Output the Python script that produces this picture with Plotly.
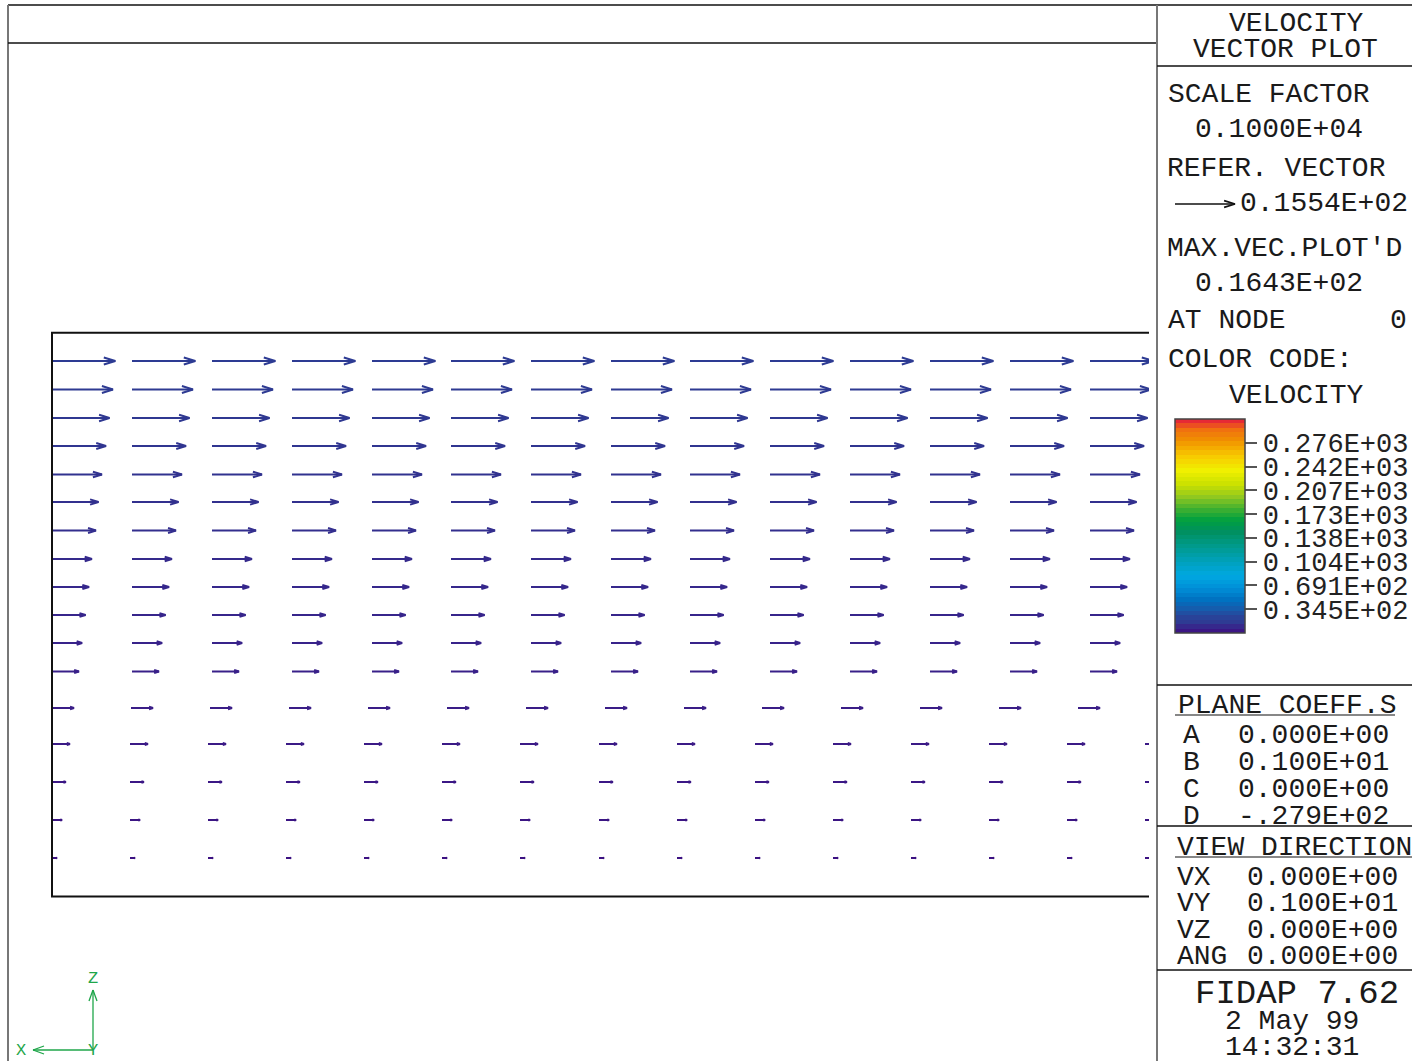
import math
import plotly.graph_objects as go
import plotly.figure_factory as ff
from plotly.colors import sample_colorscale

W, H = 1412, 1061
FONT = "Liberation Mono"

# ---------------- data ----------------
# node rows (z, model units) and horizontal velocity of each row
ROW_Z = [26.775, 25.35, 23.925, 22.525, 21.1, 19.725, 18.3, 16.875, 15.475,
         14.075, 12.675, 11.25, 9.425, 7.625, 5.725, 3.825, 1.925]
ROW_SPEED = [16.40, 15.80, 14.90, 14.00, 12.95, 12.05, 11.40, 10.35, 9.60,
             8.70, 7.80, 7.00, 5.70, 4.65, 3.60, 2.60, 1.30]
# node columns (x, model units) for the three mesh blocks
COLS_UPPER = [0.0, 4.0, 8.0, 12.0, 16.0, 19.95, 23.95, 27.95, 31.9, 35.9,
              39.9, 43.9, 47.9, 51.9]
COLS_MIDDLE = [0.0, 3.95, 7.9, 11.85, 15.8, 19.75, 23.7, 27.65, 31.6, 35.5,
               39.45, 43.4, 47.35, 51.3]
COLS_LOWER = [0.0, 3.9, 7.8, 11.7, 15.6, 19.5, 23.4, 27.35, 31.25, 35.15,
              39.05, 42.95, 46.85, 50.75, 54.65]
COLUMN_SETS = [COLS_UPPER, COLS_MIDDLE, COLS_LOWER]
ROW_BLOCK = [0] * 12 + [1] + [2] * 4

DOMAIN_W = 56.0
DOMAIN_H = 28.19

REF_VECTOR = 15.54
MAX_VECTOR = 16.43

# colour code (velocity)
CB_MAX = 310.86
CB_TICKS = [34.54, 69.08, 103.62, 138.16, 172.70, 207.24, 241.78, 276.32]
CB_LABELS = ["0.345E+02", "0.691E+02", "0.104E+03", "0.138E+03",
             "0.173E+03", "0.207E+03", "0.242E+03", "0.276E+03"]
VEL_COLORS = [
    [0.00, "#3c0e80"], [0.02, "#3a1e88"], [0.05, "#2e3a92"], [0.08, "#28449a"],
    [0.105, "#1a58a8"], [0.153, "#0070c0"], [0.21, "#0090d8"],
    [0.27, "#00a8e0"], [0.34, "#00a0b8"], [0.41, "#009a88"],
    [0.47, "#009060"], [0.527, "#00a040"], [0.58, "#40b030"],
    [0.635, "#90c820"], [0.69, "#c8e000"], [0.76, "#f0f000"],
    [0.83, "#f8c800"], [0.90, "#f09000"], [0.95, "#f07010"],
    [0.985, "#e83030"], [1.00, "#e01840"],
]
N_BANDS = 48

# ---------------- styling helpers ----------------
PX_PER_UNIT = 20.0          # model unit -> screen pixels
ARROW_PX_PER_VEL = 3.86     # velocity unit -> screen pixels


def px(xp):
    return xp / W


def py(yp):
    return 1 - yp / H


fig = go.Figure()

# banded colour scale for the colour code bar
banded = []
band_cols = sample_colorscale(VEL_COLORS, [(i + 0.5) / N_BANDS for i in range(N_BANDS)])
for i, c in enumerate(band_cols):
    banded.append([i / N_BANDS, c])
    banded.append([(i + 1) / N_BANDS, c])

# ---------------- velocity vectors ----------------
vscale = ARROW_PX_PER_VEL / PX_PER_UNIT
all_x, all_z, all_s = [], [], []
for z, s, b in zip(ROW_Z, ROW_SPEED, ROW_BLOCK):
    cols = COLUMN_SETS[b]
    xs = list(cols)
    zs = [z] * len(cols)
    us = [s] * len(cols)
    vs = [0.0] * len(cols)
    color = sample_colorscale(VEL_COLORS, [s / CB_MAX])[0]
    q = ff.create_quiver(xs, zs, us, vs, scale=vscale, arrow_scale=0.19,
                         angle=0.30, line=dict(color=color, width=2),
                         hoverinfo="skip", showlegend=False)
    fig.add_trace(q.data[0])
    all_x += xs
    all_z += zs
    all_s += us

# domain outline (right side runs out of the window)
fig.add_trace(go.Scatter(x=[DOMAIN_W, 0, 0, DOMAIN_W], y=[0, 0, DOMAIN_H, DOMAIN_H],
                         mode="lines", line=dict(color="#111", width=2),
                         hoverinfo="skip", showlegend=False))

# invisible markers carrying the colour code bar
fig.add_trace(go.Scatter(
    x=all_x, y=all_z, mode="markers", hoverinfo="skip", showlegend=False,
    marker=dict(size=1, opacity=0, color=all_s, colorscale=banded, cmin=0, cmax=CB_MAX,
                showscale=True,
                colorbar=dict(x=px(1175), xanchor="left", y=py(419), yanchor="top",
                              len=213.7, lenmode="pixels", thickness=70,
                              thicknessmode="pixels", xpad=0, ypad=0,
                              outlinewidth=1.5, outlinecolor="#444",
                              ticks="outside", ticklen=12, tickwidth=1.5,
                              tickcolor="#555", tickmode="array",
                              tickvals=CB_TICKS, ticktext=CB_LABELS,
                              tickfont=dict(family=FONT, size=27, color="#222")))))

# reference vector in side panel
rq = ff.create_quiver([0.9], [(H - 204) / PX_PER_UNIT], [REF_VECTOR], [0.0],
                      scale=vscale, arrow_scale=0.19, angle=0.30,
                      line=dict(color="#111", width=1.6), hoverinfo="skip",
                      showlegend=False)
rt = rq.data[0]
rt.update(xaxis="x2", yaxis="y2")
fig.add_trace(rt)

# ---------------- layout ----------------
x0_px, x1_px = 8, 1149
y0_px = 43
fig.update_layout(
    width=W, height=H, margin=dict(l=0, r=0, t=0, b=0),
    paper_bgcolor="white", plot_bgcolor="white",
    xaxis=dict(domain=[px(x0_px), px(x1_px)],
               range=[(x0_px - 52) / PX_PER_UNIT, (x1_px - 52) / PX_PER_UNIT],
               visible=False, fixedrange=True),
    yaxis=dict(domain=[0, py(y0_px)],
               range=[(896.5 - H) / PX_PER_UNIT, (896.5 - y0_px) / PX_PER_UNIT],
               visible=False, fixedrange=True),
    xaxis2=dict(domain=[px(1157), 1], range=[0, (W - 1157) / PX_PER_UNIT],
                anchor="y2", visible=False, fixedrange=True),
    yaxis2=dict(domain=[0, 1], range=[0, H / PX_PER_UNIT], anchor="x2",
                visible=False, fixedrange=True),
    showlegend=False, hovermode=False,
)

# frame lines
LINES = [
    (8, 5, W, 5, "#111", 1.5),
    (8, 5, 8, H, "#777", 2),
    (8, 43, 1157, 43, "#111", 1.5),
    (1157, 5, 1157, H, "#777", 2),
    (1157, 66, W, 66, "#111", 1.5),
    (1157, 685, W, 685, "#111", 1.5),
    (1157, 826, W, 826, "#111", 1.5),
    (1157, 970, W, 970, "#111", 1.5),
    (1175, 715, 1395, 715, "#111", 1.2),
    (1175, 857, W, 857, "#111", 1.2),
]
for xa, ya, xb, yb, c, w in LINES:
    fig.add_shape(type="line", xref="paper", yref="paper", x0=px(xa), y0=py(ya),
                  x1=px(xb), y1=py(yb), line=dict(color=c, width=w))

# axis triad
GREEN = "#1fa64a"
TRIAD = [
    (93, 1049, 93, 990), (89, 1001, 93, 990), (97, 1001, 93, 990),
    (93, 1050, 33, 1050), (44, 1046, 33, 1050), (44, 1054, 33, 1050),
]
for xa, ya, xb, yb in TRIAD:
    fig.add_shape(type="line", xref="paper", yref="paper", x0=px(xa), y0=py(ya),
                  x1=px(xb), y1=py(yb), line=dict(color=GREEN, width=1.3))
for t, xx, yy in [("Z", 93, 978), ("X", 21, 1050), ("Y", 93, 1050)]:
    fig.add_annotation(text=t, x=px(xx), y=py(yy), xref="paper", yref="paper",
                       xanchor="center", yanchor="middle", showarrow=False,
                       font=dict(family=FONT, size=17, color=GREEN))

# side panel text
PANEL_TEXT = [
    ("VELOCITY", 1227, 23, 28), ("VECTOR PLOT", 1191, 50, 28),
    ("SCALE FACTOR", 1166, 95, 28), ("0.1000E+04", 1193, 129, 28),
    ("REFER. VECTOR", 1165, 168, 28), ("0.1554E+02", 1238, 204, 28),
    ("MAX.VEC.PLOT'D", 1165, 248, 28), ("0.1643E+02", 1193, 283, 28),
    ("AT NODE", 1166, 320, 28), ("0", 1388, 320, 28),
    ("COLOR CODE:", 1166, 359, 28), ("VELOCITY", 1227, 396, 28),
    ("PLANE COEFF.S", 1176, 705, 28),
    ("A", 1181, 735, 28), ("0.000E+00", 1236, 735, 28),
    ("B", 1181, 762, 28), ("0.100E+01", 1236, 762, 28),
    ("C", 1181, 789, 28), ("0.000E+00", 1236, 789, 28),
    ("D", 1181, 816, 28), ("-.279E+02", 1236, 816, 28),
    ("VIEW DIRECTION", 1175, 847, 28),
    ("VX", 1175, 877, 28), ("0.000E+00", 1245, 877, 28),
    ("VY", 1175, 903, 28), ("0.100E+01", 1245, 903, 28),
    ("VZ", 1175, 930, 28), ("0.000E+00", 1245, 930, 28),
    ("ANG", 1175, 956, 28), ("0.000E+00", 1245, 956, 28),
    ("FIDAP 7.62", 1193, 994, 34),
    ("2 May 99", 1223, 1021, 28), ("14:32:31", 1223, 1047, 28),
]
for t, xx, yy, sz in PANEL_TEXT:
    fig.add_annotation(text=t, x=px(xx), y=py(yy), xref="paper", yref="paper",
                       xanchor="left", yanchor="middle", showarrow=False,
                       font=dict(family=FONT, size=sz, color="#1a1a1a"))

fig.write_html("out.html", config={"displayModeBar": False},
               post_script="document.body.style.margin='0';document.body.style.overflow='hidden';")
